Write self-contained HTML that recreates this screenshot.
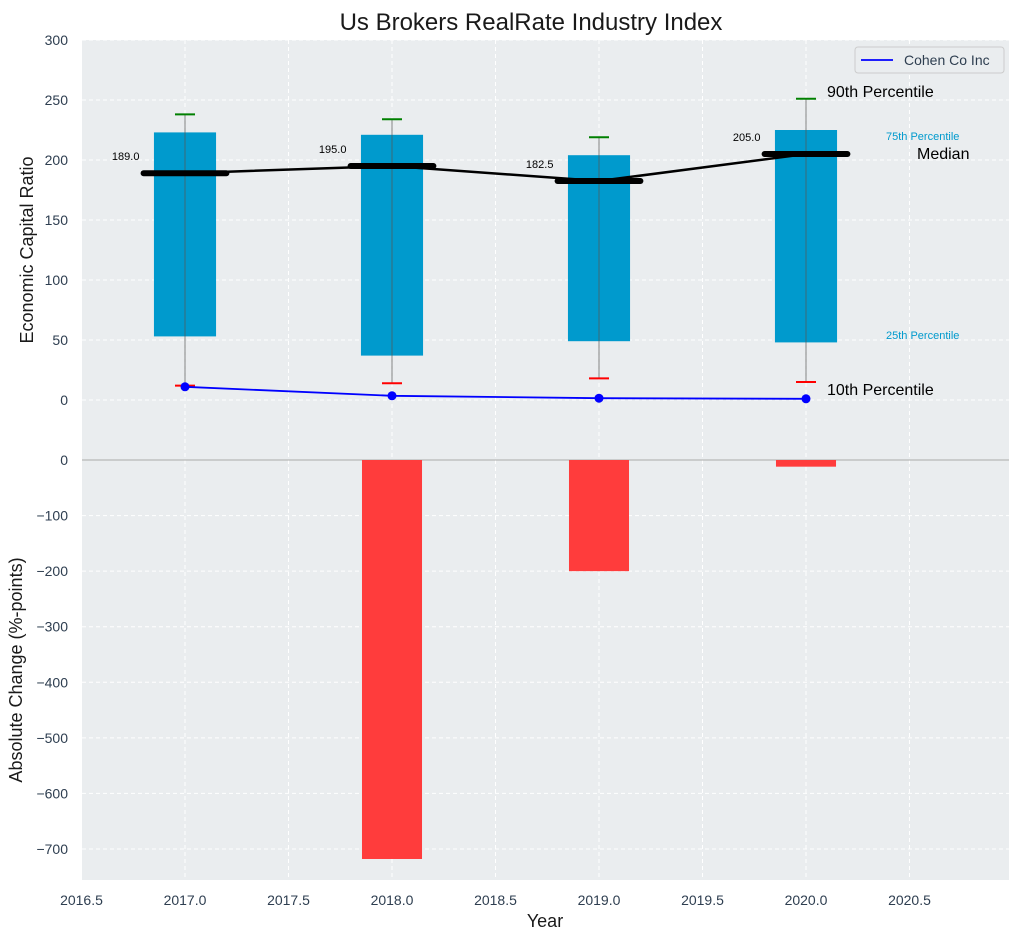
<!DOCTYPE html>
<html><head><meta charset="utf-8"><style>
body{margin:0;background:#fff;font-family:"Liberation Sans","DejaVu Sans",sans-serif}
svg{display:block}
</style></head><body>
<svg id="c" width="1021" height="940" xmlns="http://www.w3.org/2000/svg"></svg>
<script>
const years=[2017,2018,2019,2020];
const q25=[53,37,49,48];
const q75=[223,221,204,225];
const p90=[238,234,219,251];
const p10=[12,14,18,15];
const medians=[189,195,182.5,205];
const cohen=[11,3.5,1.5,1];
const changes=[0,-718,-200,-12];
const topTicks=[0,50,100,150,200,250,300];
const botTicks=[0,-100,-200,-300,-400,-500,-600,-700];
const xTicks=[2016.5,2017,2017.5,2018,2018.5,2019,2019.5,2020,2020.5];

const NS="http://www.w3.org/2000/svg";
const svg=document.getElementById('c');
const L=82,R=1009;
const X=v=>185+(v-2017)*207;
const Yt=v=>400-v*1.2;
const YB=v=>460+(-v)*0.5557;
function el(t,a,p){const e=document.createElementNS(NS,t);for(const k in a)e.setAttribute(k,a[k]);(p||svg).appendChild(e);return e;}
function txt(x,y,s,a,p){const e=el('text',Object.assign({x:x,y:y},a),p);e.textContent=s;return e;}

const bgT=el('rect',{x:L,y:40,width:R-L,height:420,fill:'#eaedef'});

const bgB=el('rect',{x:L,y:460,width:R-L,height:420,fill:'#eaedef'});


xTicks.forEach(t=>{el('line',{x1:X(t),x2:X(t),y1:40,y2:880,stroke:'#fff','stroke-dasharray':'4,3','stroke-width':1});});
topTicks.forEach(t=>{el('line',{x1:L,x2:R,y1:Yt(t),y2:Yt(t),stroke:'#fff','stroke-dasharray':'4,3'});
 const e=txt(68,Yt(t)+5,t,{'text-anchor':'end','font-size':14,fill:'#2e3e50'});
 });
botTicks.forEach(t=>{el('line',{x1:L,x2:R,y1:YB(t),y2:YB(t),stroke:'#fff','stroke-dasharray':'4,3'});
 const e=txt(68,YB(t)+5,t===0?'0':'\u2212'+(-t),{'text-anchor':'end','font-size':14,fill:'#2e3e50'});
 });
xTicks.forEach(t=>{const e=txt(X(t),905,t.toFixed(1),{'text-anchor':'middle','font-size':14,fill:'#2e3e50'});
 });
el('line',{x1:L,x2:R,y1:460,y2:460,stroke:'#aaa','stroke-width':1});

years.forEach((y,i)=>{
 const b=el('rect',{x:X(y-0.15),y:Yt(q75[i]),width:X(y+0.15)-X(y-0.15),height:Yt(q25[i])-Yt(q75[i]),fill:'#009acd'});
 
 el('line',{x1:X(y),x2:X(y),y1:Yt(p90[i]),y2:Yt(p10[i]),stroke:'#555','stroke-width':1,opacity:0.7});
 el('line',{x1:X(y)-10,x2:X(y)+10,y1:Yt(p90[i]),y2:Yt(p90[i]),stroke:'green','stroke-width':2});
 el('line',{x1:X(y)-10,x2:X(y)+10,y1:Yt(p10[i]),y2:Yt(p10[i]),stroke:'red','stroke-width':2});
});
el('polyline',{points:years.map((y,i)=>X(y)+','+Yt(medians[i])).join(' '),fill:'none',stroke:'#000','stroke-width':2.5});
years.forEach((y,i)=>{
 const m=el('line',{x1:X(y-0.2),x2:X(y+0.2),y1:Yt(medians[i]),y2:Yt(medians[i]),stroke:'#000','stroke-width':6,'stroke-linecap':'round'});
 
 const t=txt(X(y-0.22),Yt(medians[i])-13,medians[i].toFixed(1),{'text-anchor':'end','font-size':11,fill:'#000'});
 
});
el('polyline',{points:years.map((y,i)=>X(y)+','+Yt(cohen[i])).join(' '),fill:'none',stroke:'blue','stroke-width':1.8});
years.forEach((y,i)=>{const c=el('circle',{cx:X(y),cy:Yt(cohen[i]),r:4.5,fill:'blue'});
 });
years.forEach((y,i)=>{if(!changes[i])return;
 const b=el('rect',{x:X(y-0.145),y:460,width:X(y+0.145)-X(y-0.145),height:YB(changes[i])-460,fill:'#ff3c3c'});
 });

const lx=X(2020);
[[lx+21,97,'90th Percentile',16,'#000'],[886,140,'75th Percentile',11,'#009acd'],[917,159,'Median',16,'#000'],[886,339,'25th Percentile',11,'#009acd'],[lx+21,395,'10th Percentile',16,'#000']].forEach(a=>{
 const e=txt(a[0],a[1],a[2],{'font-size':a[3],fill:a[4]});});

const lg=el('g',{});
el('rect',{x:855,y:47,width:149,height:26,rx:3,fill:'#eaedef',stroke:'#ccc'},lg);
el('line',{x1:861,x2:893,y1:60,y2:60,stroke:'blue','stroke-width':1.8},lg);
txt(904,65,'Cohen Co Inc',{'font-size':14,fill:'#2e3e50'},lg);

const tt=txt(531,30,'Us Brokers RealRate Industry Index',{'text-anchor':'middle','font-size':24,fill:'#1a1a1a'});

const xt=txt(545,927,'Year',{'text-anchor':'middle','font-size':18,fill:'#1a1a1a'});

const y1=txt(0,0,'Economic Capital Ratio',{'text-anchor':'middle','font-size':18,fill:'#1a1a1a',transform:'translate(33,250) rotate(-90)'});

const y2=txt(0,0,'Absolute Change (%-points)',{'text-anchor':'middle','font-size':18,fill:'#1a1a1a',transform:'translate(22,670) rotate(-90)'});

</script>
</body></html>
